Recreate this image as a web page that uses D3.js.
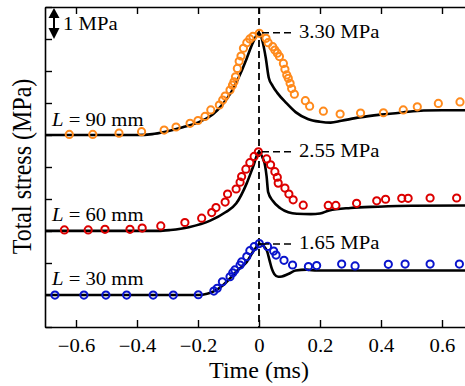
<!DOCTYPE html>
<html>
<head>
<meta charset="utf-8">
<script src="https://cdn.jsdelivr.net/npm/d3@7"></script>
<style>
  html, body { margin: 0; padding: 0; background: #fff; }
  svg { display: block; }
  svg text { font-family: "Liberation Serif", "Times New Roman", Times, "DejaVu Serif", serif; fill: #000; }
</style>
</head>
<body>
<svg id="chart" width="465" height="386"></svg>
<script>
// Specimen lengths, in the order drawn from bottom to top
const lengths = [30, 60, 90];
const seriesColors = ["#0a14cc", "#dc0000", "#ff8a1c"];
// Vertical offset of each record (MPa) so the three traces stack
const offsets = [1.03, 3.10, 6.19];
// Peak total stress of each record (MPa)
const peaks = [1.65, 2.55, 3.30];

// Simulated total stress (solid lines): [time (ms), stress (MPa)]
const sim30 = [[-0.70,0],[-0.20,0],[-0.17,0.04],[-0.15,0.11],[-0.12,0.30],[-0.095,0.54],[-0.07,0.80],[-0.04,1.07],[-0.016,1.45],[0.003,1.65],[0.015,1.58],[0.027,1.40],[0.035,1.10],[0.042,0.85],[0.05,0.68],[0.063,0.59],[0.075,0.60],[0.096,0.68],[0.12,0.79],[0.156,0.82],[0.19,0.79],[0.70,0.79]];
const sim60 = [[-0.70,0],[-0.33,0],[-0.29,0.03],[-0.23,0.12],[-0.16,0.33],[-0.11,0.60],[-0.075,0.88],[-0.04,1.54],[-0.02,2.05],[0,2.55],[0.012,2.35],[0.02,2.10],[0.025,1.75],[0.03,1.25],[0.045,0.97],[0.07,0.73],[0.096,0.60],[0.124,0.55],[0.17,0.54],[0.20,0.56],[0.23,0.66],[0.30,0.74],[0.39,0.78],[0.50,0.81],[0.70,0.82]];
const sim90 = [[-0.70,0],[-0.40,0],[-0.35,0.03],[-0.31,0.10],[-0.25,0.25],[-0.19,0.45],[-0.15,0.68],[-0.12,0.98],[-0.09,1.40],[-0.06,2.00],[-0.04,2.48],[-0.02,2.98],[0,3.30],[0.012,3.00],[0.022,2.50],[0.032,1.85],[0.045,1.58],[0.06,1.36],[0.09,1.03],[0.12,0.74],[0.16,0.52],[0.20,0.43],[0.235,0.40],[0.27,0.46],[0.33,0.57],[0.40,0.66],[0.47,0.73],[0.54,0.79],[0.60,0.80],[0.70,0.80]];

// Measured total stress (open circles): [time (ms), stress (MPa)]
const exp30 = [[-0.669,0],[-0.574,0],[-0.502,0],[-0.434,0],[-0.347,0],[-0.281,0],[-0.199,0.01],[-0.148,0.13],[-0.137,0.22],[-0.12,0.43],[-0.095,0.59],[-0.086,0.72],[-0.079,0.81],[-0.062,0.97],[-0.057,1.07],[-0.04,1.24],[-0.03,1.43],[-0.016,1.56],[0.001,1.66],[0.028,1.57],[0.048,1.42],[0.056,1.29],[0.082,1.12],[0.11,0.97],[0.162,0.92],[0.189,0.95],[0.271,1.00],[0.315,0.94],[0.424,0.99],[0.479,1.00],[0.561,1.00],[0.657,1.00]];
const exp60 = [[-0.638,0.03],[-0.56,0.03],[-0.505,0.05],[-0.423,0.05],[-0.383,0.09],[-0.322,0.16],[-0.243,0.27],[-0.188,0.41],[-0.155,0.59],[-0.141,0.75],[-0.111,0.93],[-0.103,1.19],[-0.075,1.35],[-0.062,1.57],[-0.057,1.75],[-0.043,1.99],[-0.03,2.20],[-0.016,2.40],[-0.002,2.55],[0.025,2.32],[0.038,2.13],[0.052,1.91],[0.06,1.73],[0.063,1.54],[0.085,1.38],[0.098,1.19],[0.112,1.00],[0.145,0.83],[0.227,0.82],[0.252,0.82],[0.32,0.89],[0.386,0.97],[0.415,1.02],[0.468,1.05],[0.489,1.05],[0.561,1.06],[0.648,1.06]];
const exp90 = [[-0.622,0.02],[-0.545,0.02],[-0.459,0.06],[-0.385,0.11],[-0.311,0.16],[-0.272,0.26],[-0.226,0.38],[-0.20,0.47],[-0.177,0.60],[-0.158,0.81],[-0.13,0.97],[-0.119,1.13],[-0.111,1.26],[-0.095,1.45],[-0.087,1.61],[-0.082,1.72],[-0.077,1.88],[-0.071,2.15],[-0.065,2.38],[-0.059,2.55],[-0.051,2.80],[-0.04,2.98],[-0.03,3.10],[-0.02,3.18],[0.001,3.28],[0.023,3.12],[0.03,2.98],[0.045,2.85],[0.052,2.74],[0.06,2.64],[0.067,2.53],[0.08,2.31],[0.085,2.12],[0.091,1.94],[0.096,1.83],[0.102,1.67],[0.107,1.50],[0.116,1.32],[0.152,1.11],[0.166,0.93],[0.211,0.77],[0.266,0.68],[0.333,0.71],[0.408,0.72],[0.473,0.81],[0.519,0.91],[0.588,1.02],[0.659,1.07]];

const simSeries = [sim30, sim60, sim90];
const expSeries = [exp30, exp60, exp90];

// Axis tick values
const xTicks = [-0.6, -0.4, -0.2, 0, 0.2, 0.4, 0.6];
const yMax = 10.32;
const yTickCount = 10;

const serif = "'Liberation Serif', 'Times New Roman', Times, 'DejaVu Serif', serif";

const svg = d3.select("#chart");
const plot = { left: 45, top: 7, right: 472.5, bottom: 327 };

const x = d3.scaleLinear().domain([-0.7, 0.7]).range([plot.left + 0.5, plot.right]);
const y = d3.scaleLinear().domain([0, yMax]).range([plot.bottom, plot.top]);

const smallFont = 18, stretch = 1.15;

svg.append("defs").append("clipPath").attr("id", "plotClip")
  .append("rect")
  .attr("x", plot.left).attr("y", plot.top - 6)
  .attr("width", plot.right - plot.left).attr("height", plot.bottom - plot.top + 6);

// Axes: inward ticks on bottom, top and left
const xAxis = svg.append("g")
  .attr("transform", `translate(0,${plot.bottom})`)
  .call(d3.axisBottom(x).tickValues(xTicks).tickSizeInner(-7).tickSizeOuter(0)
        .tickFormat(d3.format("")));
xAxis.attr("font-family", serif);
xAxis.select(".domain").attr("stroke-width", 1.6);
xAxis.selectAll(".tick line").attr("stroke-width", 1.4);
xAxis.selectAll(".tick text")
  .attr("y", 25.5).attr("dy", 0)
  .attr("transform", `scale(${stretch},1)`)
  .attr("font-family", serif)
  .style("font-size", smallFont + "px");

const xTop = svg.append("g")
  .attr("transform", `translate(0,${plot.top})`)
  .call(d3.axisTop(x).tickValues(xTicks).tickSizeInner(-7).tickSizeOuter(0).tickFormat(""));
xTop.select(".domain").attr("stroke-width", 1.6);
xTop.selectAll(".tick line").attr("stroke-width", 1.4);

const yAxis = svg.append("g")
  .attr("transform", `translate(${plot.left},0)`)
  .call(d3.axisLeft(y)
        .tickValues(d3.range(yTickCount + 1).map(i => i * yMax / yTickCount))
        .tickSizeInner(-7).tickSizeOuter(0).tickFormat(""));
yAxis.select(".domain").attr("stroke-width", 1.6);
yAxis.selectAll(".tick line").attr("stroke-width", 1.4);

// Axis titles
svg.append("text")
  .attr("x", x(0)).attr("y", 378)
  .attr("text-anchor", "middle")
  .attr("font-family", serif)
  .style("font-size", "24px")
  .text("Time (ms)");

svg.append("text")
  .attr("transform", `translate(31,${(76 + 257) / 2}) rotate(-90) scale(1,1.1)`)
  .attr("text-anchor", "middle")
  .attr("font-family", serif)
  .style("font-size", "24px")
  .text("Total stress (MPa)");

// Time origin
svg.append("line")
  .attr("x1", x(0)).attr("x2", x(0))
  .attr("y1", plot.top).attr("y2", plot.bottom)
  .attr("stroke", "#000").attr("stroke-width", 1.8)
  .attr("stroke-dasharray", "7,4");

const chart = svg.append("g").attr("clip-path", "url(#plotClip)");

const line = d3.line()
  .x(d => x(d[0]))
  .curve(d3.curveMonotoneX);

// Simulated traces
simSeries.forEach((s, i) => {
  chart.append("path")
    .datum(s)
    .attr("d", line.y(d => y(d[1] + offsets[i])))
    .attr("fill", "none")
    .attr("stroke", "#000")
    .attr("stroke-width", 2.6)
    .attr("stroke-linejoin", "round");
});

// Measured points
expSeries.forEach((s, i) => {
  chart.append("g")
    .selectAll("circle")
    .data(s)
    .join("circle")
    .attr("cx", d => x(d[0]))
    .attr("cy", d => y(d[1] + offsets[i]))
    .attr("r", 3.6)
    .attr("fill", "none")
    .attr("stroke", seriesColors[i])
    .attr("stroke-width", 2);
});

// Peak annotations
const fmt = d3.format(".2f");
peaks.forEach((p, i) => {
  const py = y(p + offsets[i]);
  svg.append("line")
    .attr("x1", x(0) + 3).attr("x2", 292)
    .attr("y1", py).attr("y2", py)
    .attr("stroke", "#000").attr("stroke-width", 1.5)
    .attr("stroke-dasharray", "7,4");
  svg.append("text")
    .attr("transform", `translate(299,${py + 5.5}) scale(${stretch},1)`)
    .attr("font-family", serif)
    .style("font-size", smallFont + "px")
    .text(`${fmt(p)} MPa`);
});

// Specimen length labels
const labelBaselines = [285, 221, 126];
lengths.forEach((L, i) => {
  const t = svg.append("text")
    .attr("transform", `translate(52,${labelBaselines[i]}) scale(${stretch},1)`)
    .attr("font-family", serif)
    .style("font-size", smallFont + "px");
  t.append("tspan").style("font-style", "italic").text("L");
  t.append("tspan").text(` = ${L} mm`);
});

// 1 MPa scale bar
const barX = 54, barTop = y(yMax), barBot = y(yMax - 1);
svg.append("line")
  .attr("x1", barX).attr("x2", barX)
  .attr("y1", barTop + 4).attr("y2", barBot - 4)
  .attr("stroke", "#000").attr("stroke-width", 2);
svg.append("path")
  .attr("d", `M${barX},${barTop + 1}L${barX - 5.5},${barTop + 11}L${barX + 5.5},${barTop + 11}Z`)
  .attr("fill", "#000");
svg.append("path")
  .attr("d", `M${barX},${barBot + 1}L${barX - 5.5},${barBot - 10}L${barX + 5.5},${barBot - 10}Z`)
  .attr("fill", "#000");
svg.append("text")
  .attr("transform", `translate(63,${barTop + 23}) scale(${stretch},1)`)
  .attr("font-family", serif)
  .style("font-size", smallFont + "px")
  .text("1 MPa");
</script>
</body>
</html>
